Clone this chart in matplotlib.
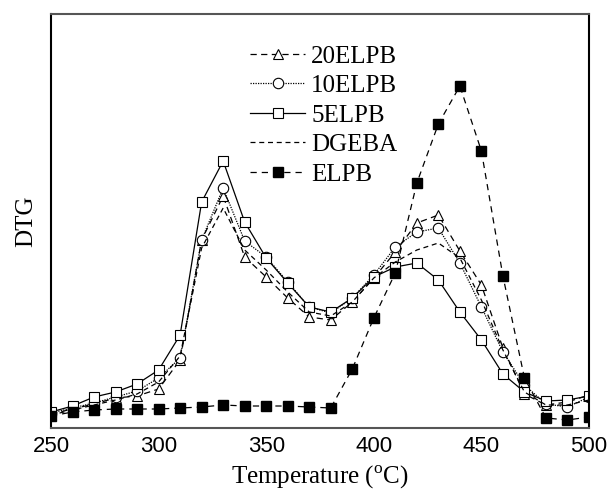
import numpy as np
import matplotlib
matplotlib.use("Agg")
import matplotlib.pyplot as plt

# temperature in degC, DTG in arbitrary units (no y scale on the original)
temperature = np.arange(250, 501, 10)

dtg_20elpb = [14, 19, 24, 30, 32, 39, 68, 188, 232, 171, 151, 130, 111, 108, 126, 150, 176, 205, 213, 177, 143, 80, 34, 23, 26, 33]
dtg_10elpb = [15, 20, 25, 31, 37, 50, 70, 188, 240, 187, 171, 146, 121, 115, 130, 153, 181, 196, 200, 165, 121, 76, 43, 24, 21, 31]
dtg_5elpb = [16, 22, 31, 36, 44, 58, 93, 226, 267, 206, 170, 145, 121, 116, 130, 151, 161, 165, 148, 116, 88, 54, 36, 27, 28, 32]
dtg_dgeba = [13, 18, 23, 28, 34, 46, 72, 180, 220, 178, 158, 136, 116, 112, 126, 150, 166, 178, 185, 170, 128, 78, 36, 23, 23, 28]
dtg_elpb = [12, 16, 18, 19, 19, 19, 20, 21, 23, 22, 22, 22, 21, 20, 59, 110, 155, 245, 304, 342, 277, 152, 50, 10, 8, 11]

labels = ["20ELPB", "10ELPB", "5ELPB", "DGEBA", "ELPB"]

plt.rcParams["font.family"] = "Liberation Serif"
plt.rcParams["mathtext.fontset"] = "custom"
plt.rcParams["mathtext.rm"] = "Liberation Serif"

fig = plt.figure(figsize=(6.1, 4.94), dpi=100)
ax = fig.add_axes([51 / 610, 66 / 494, 538 / 610, 414 / 494])

lw = 0.9
ax.plot(temperature, dtg_20elpb, color="black", lw=lw, ls=(0, (5, 3.5)),
        marker="^", ms=7.5, mfc="white", mec="black", mew=0.8, label=labels[0])
ax.plot(temperature, dtg_10elpb, color="black", lw=lw, ls=(0, (1, 1)),
        marker="o", ms=7.5, mfc="white", mec="black", mew=0.8, label=labels[1])
ax.plot(temperature, dtg_5elpb, color="black", lw=lw, ls="-",
        marker="s", ms=6.5, mfc="white", mec="black", mew=0.8, label=labels[2])
ax.plot(temperature, dtg_dgeba, color="black", lw=lw, ls=(0, (4, 3)),
        label=labels[3])
ax.plot(temperature, dtg_elpb, color="black", lw=lw, ls=(0, (5, 4)),
        marker="s", ms=6.5, mfc="black", mec="black", label=labels[4])

ax.set_xlim(250, 500)
ax.set_ylim(0, 414)
ax.set_xticks([250, 300, 350, 400, 450, 500])
ax.set_yticks([])
ax.tick_params(axis="x", length=0, pad=6)
for t in ax.get_xticklabels():
    t.set_fontfamily("Liberation Sans")
    t.set_fontsize(16)

for side in ["left", "right"]:
    ax.spines[side].set_linewidth(1.5)
for side in ["top", "bottom"]:
    ax.spines[side].set_linewidth(1.5)
    ax.spines[side].set_color("#555555")
    ax.spines[side].set_linestyle((0, (1, 1)))

ax.set_xlabel("Temperature ($^{\\rm o}$C)", fontsize=18, labelpad=5)
ax.set_ylabel("DTG", fontsize=18, labelpad=10)

ax.legend(loc="upper left", bbox_to_anchor=(0.37, 0.925), frameon=False,
          fontsize=18, handlelength=2.2, handletextpad=0.25,
          labelspacing=0.28, borderpad=0, borderaxespad=0, numpoints=1)

fig.savefig("out.png", dpi=100)
